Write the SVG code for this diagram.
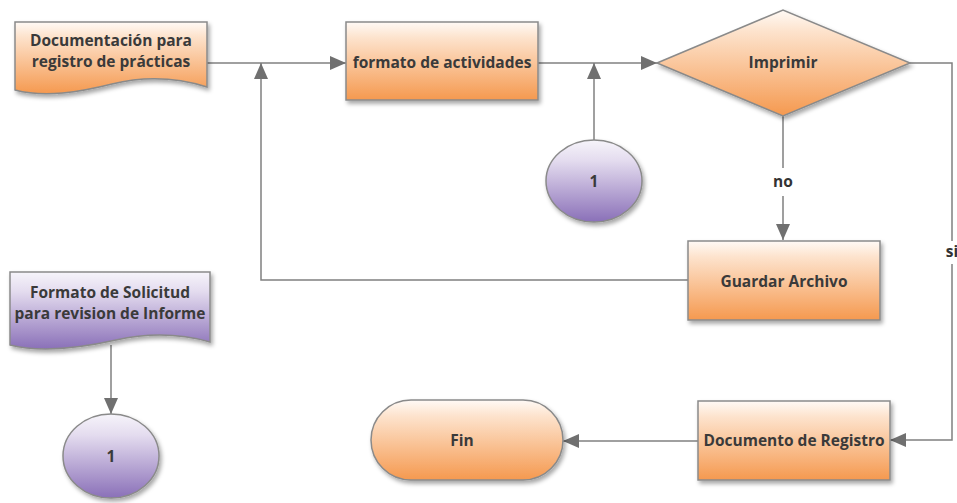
<svg xmlns="http://www.w3.org/2000/svg" width="957" height="503" viewBox="0 0 957 503">
  <defs>
    <linearGradient id="orange" x1="0" y1="0" x2="0" y2="1">
      <stop offset="0" stop-color="#fffaf6"/>
      <stop offset="0.2" stop-color="#fde3cd"/>
      <stop offset="1" stop-color="#f5994f"/>
    </linearGradient>
    <linearGradient id="purple" x1="0" y1="0" x2="0" y2="1">
      <stop offset="0" stop-color="#f6f4fa"/>
      <stop offset="0.25" stop-color="#e4dcef"/>
      <stop offset="1" stop-color="#8a70b8"/>
    </linearGradient>
    <filter id="shadow" x="-10%" y="-10%" width="125%" height="130%">
      <feDropShadow dx="2" dy="3" stdDeviation="2" flood-color="#000" flood-opacity="0.35"/>
    </filter>
    <marker id="arrow" markerUnits="userSpaceOnUse" markerWidth="16" markerHeight="14" refX="16" refY="7" orient="auto">
      <path d="M0,0 L16,7 L0,14 Z" fill="#707070"/>
    </marker>
  </defs>
  <style>
    .shape { stroke: #8a8a8a; stroke-width: 1.5; filter: url(#shadow); }
    .orange { fill: url(#orange); }
    .purple { fill: url(#purple); }
    .label { font-family: "Open Sans", "Liberation Sans", sans-serif; font-weight: bold; font-size: 15.5px; fill: #3a3a3a; text-anchor: middle; }
    .edge { fill: none; stroke: #808080; stroke-width: 1.5; marker-end: url(#arrow); }
    .edge-label { font-family: "Open Sans", "Liberation Sans", sans-serif; font-weight: bold; font-size: 15.5px; fill: #333; text-anchor: middle; }
  </style>

  <rect width="957" height="503" fill="#ffffff"/>

  <!-- connectors -->
  <g id="connectors">
    <path class="edge" d="M207,63 H346"/>
    <path class="edge" d="M688,280 H261 V63"/>
    <path class="edge" d="M538,63 H657"/>
    <path class="edge" d="M594,140 V63"/>
    <path class="edge" d="M783,116 V168 M783,196 V240"/>
    <path class="edge" d="M910,63 H952 V241 M952,264 V440 H890"/>
    <path class="edge" d="M698,441 H563"/>
    <path class="edge" d="M111,345 V414"/>
    <text class="edge-label" x="783" y="187">no</text>
    <text class="edge-label" x="952" y="257">si</text>
  </g>

  <!-- document: registro de prácticas -->
  <g id="doc-registro">
    <path class="shape orange" d="M15,22 H207 V87 C175,77 145,76 112,84 C80,92 45,98 15,90 Z"/>
    <text class="label" x="111" y="45.5">Documentación para</text>
    <text class="label" x="111" y="66.5">registro de prácticas</text>
  </g>

  <!-- process: formato de actividades -->
  <g id="formato-actividades">
    <rect class="shape orange" x="346" y="22" width="192" height="78"/>
    <text class="label" x="442" y="68">formato de actividades</text>
  </g>

  <!-- decision: imprimir -->
  <g id="imprimir">
    <polygon class="shape orange" points="657,63 783,10 910,63 783,116"/>
    <text class="label" x="783" y="68">Imprimir</text>
  </g>

  <!-- connector 1 (top) -->
  <g id="conector-1a">
    <ellipse class="shape purple" cx="594" cy="181" rx="48" ry="41"/>
    <text class="label" x="594" y="187">1</text>
  </g>

  <!-- process: guardar archivo -->
  <g id="guardar-archivo">
    <rect class="shape orange" x="688" y="241" width="192" height="79"/>
    <text class="label" x="784" y="287">Guardar Archivo</text>
  </g>

  <!-- document: formato de solicitud -->
  <g id="doc-solicitud">
    <path class="shape purple" d="M10,272 H210 V342 C178,333 148,333 116,340 C80,348 42,353 10,345 Z"/>
    <text class="label" x="110" y="297.5">Formato de Solicitud</text>
    <text class="label" x="110" y="318.5">para revision de Informe</text>
  </g>

  <!-- connector 1 (bottom) -->
  <g id="conector-1b">
    <ellipse class="shape purple" cx="111" cy="456" rx="48" ry="42"/>
    <text class="label" x="111" y="462">1</text>
  </g>

  <!-- terminator: fin -->
  <g id="fin">
    <rect class="shape orange" x="371" y="400" width="192" height="80" rx="40" ry="40"/>
    <text class="label" x="462" y="446">Fin</text>
  </g>

  <!-- process: documento de registro -->
  <g id="documento-registro">
    <rect class="shape orange" x="698" y="401" width="192" height="79"/>
    <text class="label" x="794" y="446">Documento de Registro</text>
  </g>
</svg>
